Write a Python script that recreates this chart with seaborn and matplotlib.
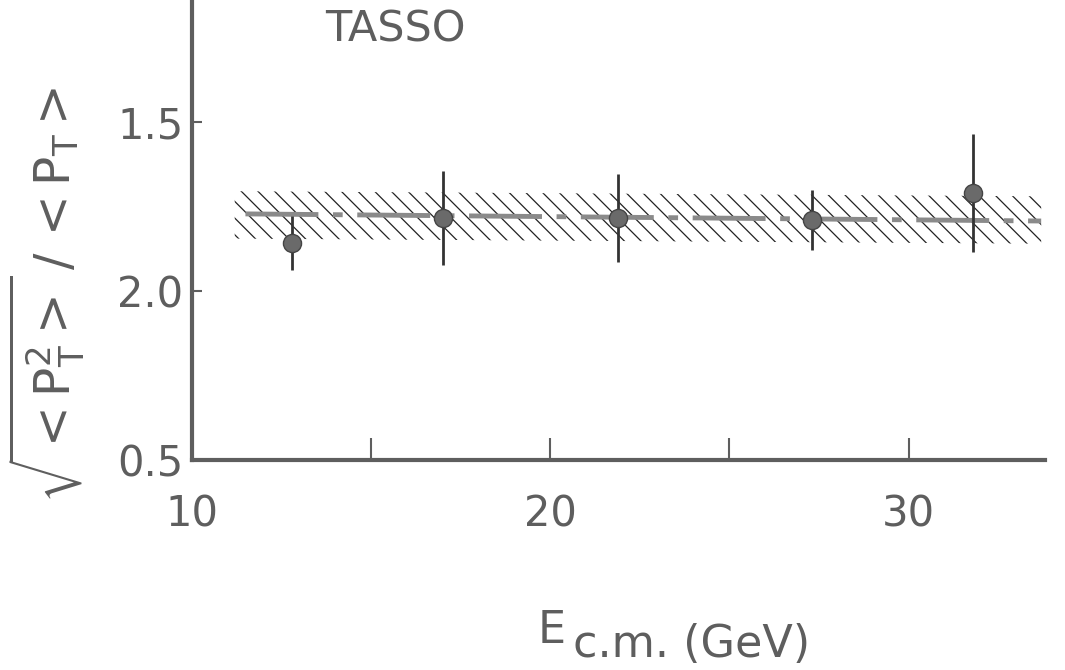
import matplotlib
matplotlib.use("Agg")
import matplotlib.pyplot as plt
import seaborn as sns
import pandas as pd

# measured points (E_cm in GeV, ratio)
ecm = [12.8, 17.0, 21.9, 27.3, 31.8]
ratio = [1.142, 1.216, 1.216, 1.210, 1.290]
ratio_err = [0.08, 0.14, 0.13, 0.088, 0.175]

# fitted value with hatched band
fit_x = [11.5, 33.7]
fit_y = [1.228, 1.207]
band_x = [11.2, 33.7]
band_lo = [1.155, 1.140]
band_hi = [1.295, 1.280]

yticks = [0.5, 1.0, 1.5]
ytick_labels = ["0.5", "2.0", "1.5"]
xticks = [10, 15, 20, 25, 30]
xtick_labels = ["10", "", "20", "", "30"]

ink = "#5e5e5e"

sns.set_theme(style="white")
plt.rcParams["font.family"] = ["DejaVu Sans"]
plt.rcParams["mathtext.fontset"] = "dejavusans"
plt.rcParams["hatch.linewidth"] = 0.9

fig = plt.figure(figsize=(10.65, 6.7), dpi=100)
ax = fig.add_axes([0.180, 0.313, 0.801, 0.687])

df = pd.DataFrame({"ecm": ecm, "ratio": ratio})

ax.fill_between(band_x, band_lo, band_hi, facecolor="none",
                edgecolor="#222222", hatch="\\\\", linewidth=0)
sns.lineplot(x=fit_x, y=fit_y, ax=ax, color="#8a8a8a", linewidth=3.5,
             linestyle=(0, (15, 3, 2, 3)))
ax.errorbar(ecm, ratio, yerr=ratio_err, fmt="none", ecolor="#333333",
            elinewidth=2, capsize=0)
sns.scatterplot(data=df, x="ecm", y="ratio", ax=ax, s=170, color="#6a6a6a",
                edgecolor="#444444", linewidth=1, zorder=5)

ax.set_xlim(10, 33.8)
ax.set_ylim(0.5, 1.86)

ax.set_xticks(xticks)
ax.set_xticklabels(xtick_labels)
ax.set_yticks(yticks)
ax.set_yticklabels(ytick_labels)
ax.tick_params(axis="x", bottom=True, direction="in", length=16, width=1.5,
               color=ink, labelsize=30, labelcolor=ink, pad=24)
ax.tick_params(axis="y", left=True, direction="in", length=7, width=1.5,
               color=ink, labelsize=30, labelcolor=ink, pad=6)

for side in ["top", "right"]:
    ax.spines[side].set_visible(False)
for side in ["left", "bottom"]:
    ax.spines[side].set_color(ink)
    ax.spines[side].set_linewidth(3)

# x label: "E" with a lowered "c.m. (GeV)"
ax.set_xlabel("")
ax.text(0.406, -0.396, "E", transform=ax.transAxes, fontsize=32,
        color=ink, ha="left", va="baseline")
ax.text(0.447, -0.428, "c.m. (GeV)", transform=ax.transAxes, fontsize=32,
        color=ink, ha="left", va="baseline")

ax.set_ylabel(r"$\sqrt{{<}\mathrm{P}_\mathrm{T}^2{>}}\,/\,{<}\mathrm{P}_\mathrm{T}{>}$",
              fontsize=35, color=ink, va="center")
ax.yaxis.set_label_coords(-0.17, 0.36)

ax.text(0.156, 0.935, "TASSO", transform=ax.transAxes, fontsize=31,
        color=ink, ha="left", va="center")

fig.savefig("out.png", dpi=100, facecolor="white")
